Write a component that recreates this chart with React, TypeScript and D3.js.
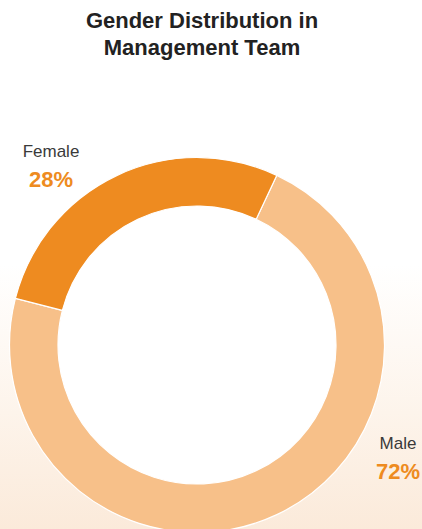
import React, { useEffect, useRef } from "react";
import * as d3 from "d3";

const genders = ["Male", "Female"];
const shares = [72, 28];
const shareLabels = ["72%", "28%"];
const titleLines = ["Gender Distribution in", "Management Team"];

const W = 422,
  H = 529;
const cx = 197,
  cy = 345,
  outerR = 187.5,
  innerR = 139;

const colors = d3.scaleOrdinal<string, string>().domain(genders).range(["#F7C089", "#EE8B20"]);

// label anchors (outside the ring, as in the original layout)
const labelPos: Record<string, { x: number; y: number }> = {
  Female: { x: 51, y: 157 },
  Male: { x: 398, y: 449 },
};

export default function App() {
  const ref = useRef<SVGSVGElement>(null);

  useEffect(() => {
    const svg = d3.select(ref.current);
    svg.selectAll("*").remove();

    const defs = svg.append("defs");
    const grad = defs
      .append("linearGradient")
      .attr("id", "bg")
      .attr("x1", 0)
      .attr("y1", 0)
      .attr("x2", 0)
      .attr("y2", 1);
    grad.append("stop").attr("offset", "0.5").attr("stop-color", "#ffffff");
    grad.append("stop").attr("offset", "0.78").attr("stop-color", "#FDF4EB");
    grad.append("stop").attr("offset", "1").attr("stop-color", "#FBEADA");

    svg.append("rect").attr("width", W).attr("height", H).attr("fill", "url(#bg)");

    // title
    svg
      .append("g")
      .selectAll("text")
      .data(titleLines)
      .enter()
      .append("text")
      .attr("x", 202)
      .attr("y", (d, i) => 28 + i * 26.5)
      .attr("text-anchor", "middle")
      .style("font-family", "'Liberation Sans', Arial, sans-serif")
      .style("font-weight", "bold")
      .style("font-size", "22px")
      .attr("fill", "#222")
      .text((d) => d);

    const start = (25.2 * Math.PI) / 180;
    const pie = d3
      .pie<number>()
      .sort(null)
      .startAngle(start)
      .endAngle(start + 2 * Math.PI);
    const arc = d3.arc<d3.PieArcDatum<number>>().innerRadius(innerR).outerRadius(outerR);

    const g = svg.append("g").attr("transform", `translate(${cx},${cy})`);
    g.append("circle").attr("r", innerR).attr("fill", "#fff");
    g.selectAll("path")
      .data(pie(shares))
      .enter()
      .append("path")
      .attr("d", arc)
      .attr("fill", (d, i) => colors(genders[i]))
      .attr("stroke", "#fff")
      .attr("stroke-width", 1.2);

    genders.forEach((name, i) => {
      const p = labelPos[name];
      svg
        .append("text")
        .attr("x", p.x)
        .attr("y", p.y)
        .attr("text-anchor", "middle")
        .style("font-family", "'Liberation Sans', Arial, sans-serif")
        .style("font-size", "17px")
        .attr("fill", "#3a3a3a")
        .text(name);
      svg
        .append("text")
        .attr("x", p.x)
        .attr("y", p.y + 29.5)
        .attr("text-anchor", "middle")
        .style("font-family", "'Liberation Sans', Arial, sans-serif")
        .style("font-weight", "bold")
        .style("font-size", "22px")
        .attr("fill", "#EE8B20")
        .text(shareLabels[i]);
    });
  }, []);

  return (
    <svg
      ref={ref}
      width={W}
      height={H}
      style={{ position: "absolute", left: 0, top: 0, display: "block" }}
    />
  );
}
